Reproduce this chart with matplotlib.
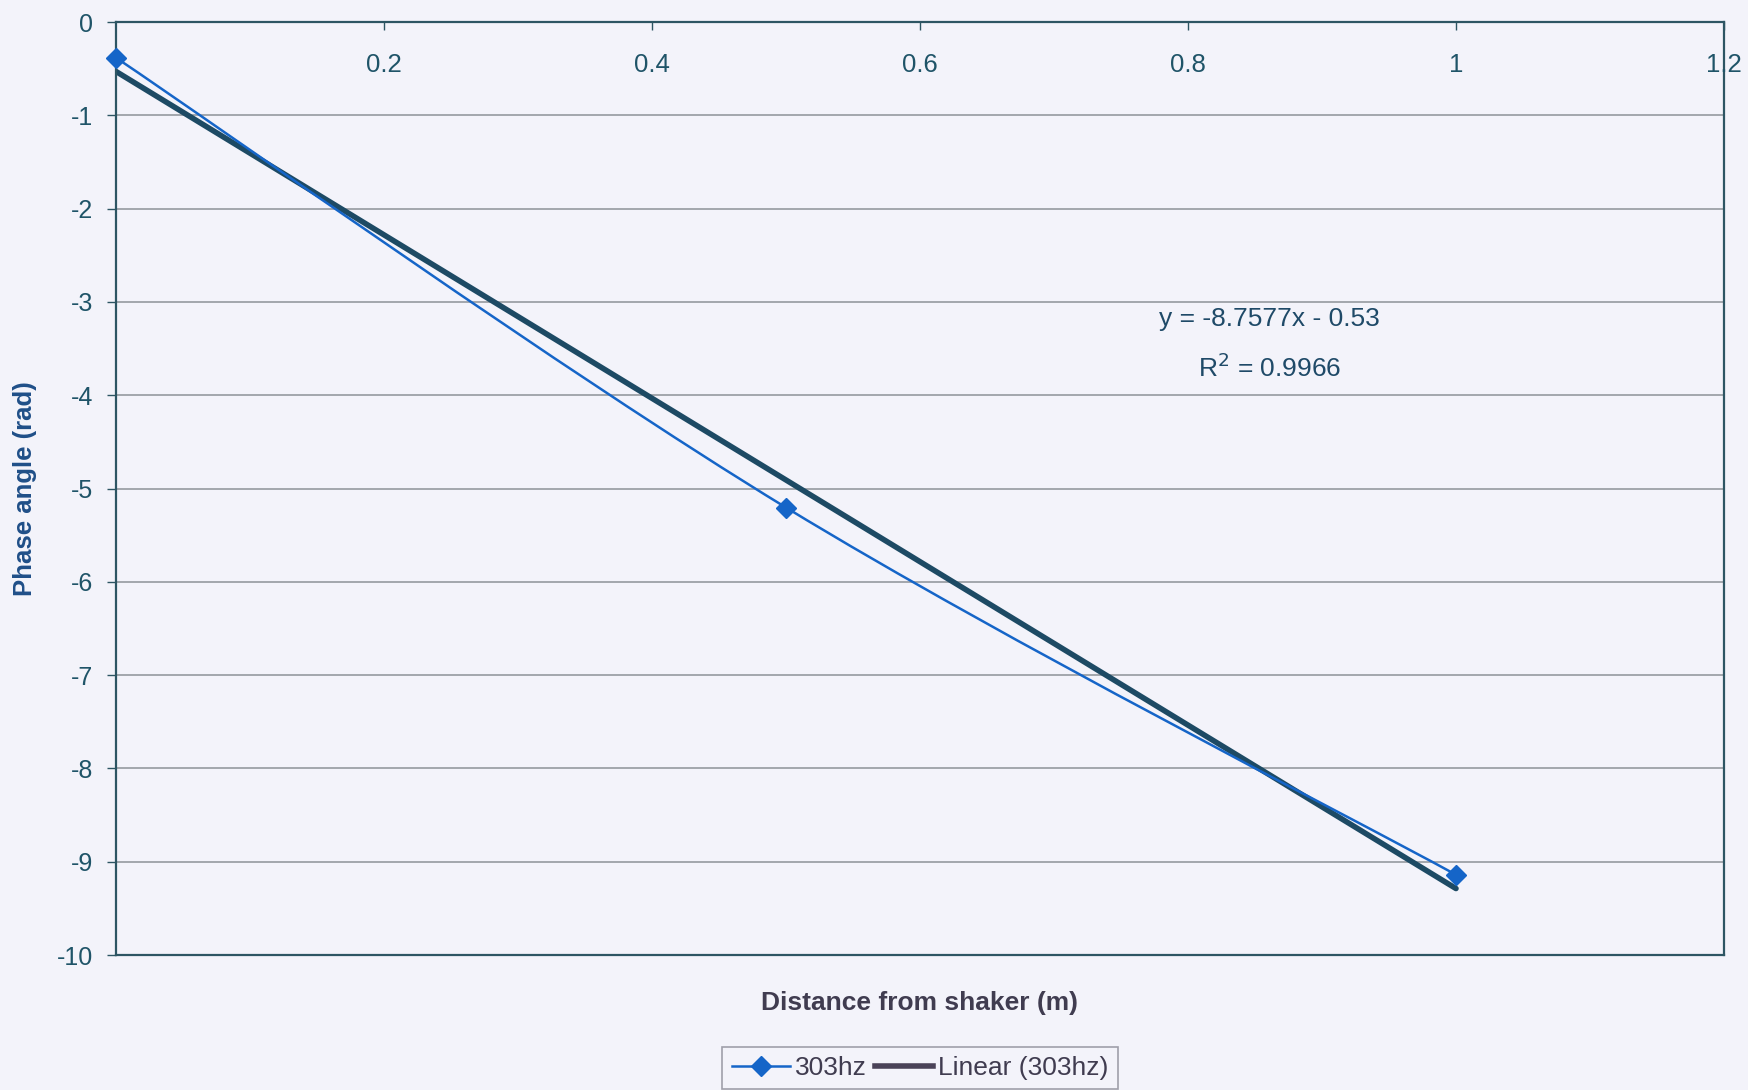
import matplotlib
matplotlib.use("Agg")
import matplotlib.pyplot as plt
import numpy as np
from matplotlib.path import Path
from matplotlib.patches import PathPatch
from matplotlib.lines import Line2D

# Data
distance = [0.0, 0.5, 1.0]
phase = [-0.383, -5.204, -9.140]
series_name = "303hz"
trend_name = "Linear (303hz)"
slope = -8.7577
intercept = -0.53
r2_text = "0.9966"
x_ticks = [0.2, 0.4, 0.6, 0.8, 1.0, 1.2]
x_tick_labels = ["0.2", "0.4", "0.6", "0.8", "1", "1.2"]
y_ticks = [0, -1, -2, -3, -4, -5, -6, -7, -8, -9, -10]

bg = "#f3f3fa"
tick_col = "#1f5468"
blue = "#1565c8"
trend_col = "#1d4a64"

plt.rcParams['font.family'] = ['Liberation Sans', 'DejaVu Sans']

fig = plt.figure(figsize=(17.49, 10.90), dpi=100, facecolor=bg)
ax = fig.add_axes([116/1749, 1-955/1090, (1724-116)/1749, (955-22)/1090])
ax.set_facecolor(bg)
ax.set_xlim(0, 1.2)
ax.set_ylim(-10, 0)

# gridlines
for yv in y_ticks[1:-1]:
    ax.axhline(yv, color="#8c9298", lw=1.1, zorder=1)

# smoothed series (Catmull-Rom Bezier, like Excel smoothing)
xs = np.array(distance); ys = np.array(phase)
pts = np.column_stack([xs, ys])
verts = [tuple(pts[0])]
codes = [Path.MOVETO]
n = len(pts)
for i in range(n - 1):
    p0 = pts[i - 1] if i > 0 else pts[i]
    p1 = pts[i]
    p2 = pts[i + 1]
    p3 = pts[i + 2] if i + 2 < n else pts[i + 1]
    c1 = p1 + (p2 - p0) / 6.0
    c2 = p2 - (p3 - p1) / 6.0
    verts += [tuple(c1), tuple(c2), tuple(p2)]
    codes += [Path.CURVE4] * 3
ax.add_patch(PathPatch(Path(verts, codes), facecolor="none", edgecolor=blue, lw=1.8, zorder=3))
ax.plot(distance, phase, linestyle="none", marker="D", markersize=10, color=blue, zorder=4,
        clip_on=False)

# trend line
tx = np.array([min(distance), max(distance)])
ax.plot(tx, slope * tx + intercept, color=trend_col, lw=4.0, zorder=2, solid_capstyle="round")

ax.text(0.861, -3.18, f"y = {slope}x - {abs(intercept)}", ha="center", va="center",
        fontsize=19, color="#1f4a68")
ax.text(0.861, -3.71, r"R$^2$ = " + r2_text, ha="center", va="center",
        fontsize=19, color="#1f4a68")

# spines
for s in ax.spines.values():
    s.set_color("#2d5563")
    s.set_linewidth(1.6)

# x ticks at top, labels below top spine (inside)
ax.xaxis.set_ticks_position("top")
ax.set_xticks(x_ticks)
ax.set_xticklabels([])
ax.tick_params(axis="x", direction="in", length=6, color="#2d5563", width=1.0)
for xv, lab in zip(x_ticks, x_tick_labels):
    ax.text(xv, -0.46, lab, ha="center", va="center", fontsize=18.5, color=tick_col,
            clip_on=False)

ax.set_yticks(y_ticks)
ax.set_yticklabels([str(v) for v in y_ticks], fontsize=18, color=tick_col)
ax.tick_params(axis="y", direction="out", length=6.5, color="#2d5563", width=1.0, pad=10)

fig.text(25/1749, 1-489/1090, "Phase angle (rad)", rotation=90, ha="center", va="center",
         fontsize=18.5, fontweight="bold", color="#1f4f88")
fig.text(920/1749, 1-1003/1090, "Distance from shaker (m)", ha="center", va="center",
         fontsize=19, fontweight="bold", color="#403c50")

handles = [Line2D([0], [0], color=blue, lw=1.8, marker="D", markersize=10),
           Line2D([0], [0], color="#4a4258", lw=4.0)]
leg = fig.legend(handles, [series_name, trend_name], loc="upper center",
                 bbox_to_anchor=(920/1749, 1-1047/1090), ncol=2, frameon=True,
                 fontsize=19, handlelength=2.2, columnspacing=0.3, handletextpad=0.2,
                 borderpad=0.35, borderaxespad=0.0, fancybox=False, labelcolor="#403c50")
leg.get_frame().set_edgecolor("#8a8a96")
leg.get_frame().set_facecolor(bg)
leg.get_frame().set_linewidth(1.2)

fig.savefig("out.png", dpi=100, facecolor=bg)
